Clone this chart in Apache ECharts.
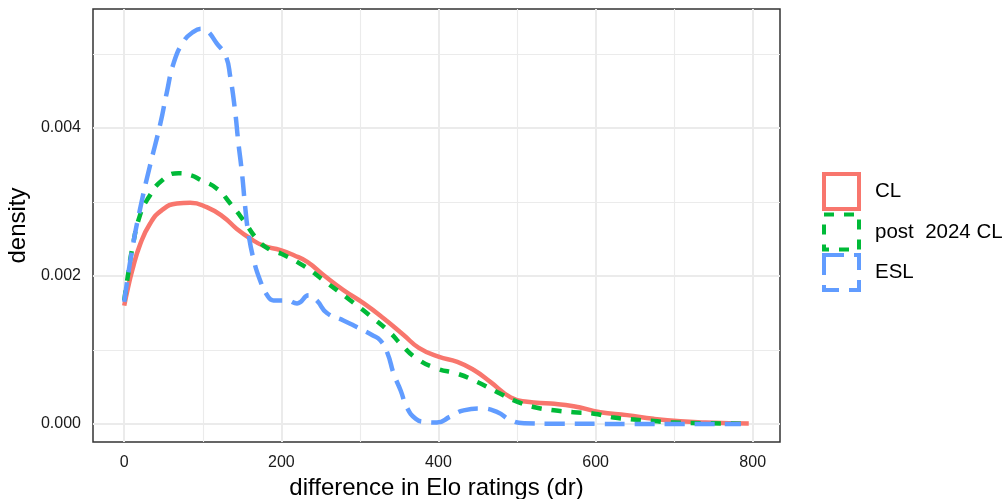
<!DOCTYPE html>
<html><head><meta charset="utf-8">
<script src="https://cdn.jsdelivr.net/npm/echarts@6/dist/echarts.min.js"></script>
<style>html,body{margin:0;padding:0;background:#fff}#c{width:1008px;height:499px}</style>
</head><body><div id="c"></div>
<script>
const seriesNames = ['CL', 'post  2024 CL', 'ESL'];
const clX = [0,5,10,20,33,48,67,84,105,126,143,160,177,199,216,233,254,279,305,330,356,375,400,424,445,466,492,513,543,572,606,640,674,708,740,770,795];
const clY = [0.00160,0.00185,0.00207,0.00242,0.00271,0.00289,0.00298,0.00299,0.00293,0.00280,0.00264,0.00251,0.00241,0.00235,0.00228,0.00219,0.00201,0.00181,0.00163,0.00143,0.00120,0.00103,0.00091,0.00084,0.00073,0.00057,0.00036,0.00030,0.000276,0.00024,0.00016,0.00012,0.00007,0.000036,0.00002,0.000012,0.000008];
const postX = [0,5,10,20,31,48,69,85,97,118,135,152,169,186,200,228,254,288,317,339,352,373,398,424,449,475,496,521,547,572,598,623,649,674,700,740,785];
const postY = [0.00167,0.00203,0.00236,0.00282,0.00306,0.00329,0.00339,0.00336,0.00330,0.00318,0.00298,0.00275,0.00250,0.00235,0.00230,0.00214,0.00194,0.00167,0.00143,0.00123,0.00108,0.00088,0.00075,0.00068,0.00057,0.00043,0.00032,0.00023,0.000185,0.00016,0.00014,0.000087,0.00006,0.00004,0.00002,0.00001,0.000005];
const eslX = [0,10,22.5,33,46,54,63,75,88,99,105,118,129,135,141,145,150,154,158,165,173,182,190,207,220,235,245,258,279,296,316,326,335,343,352,360,371,381,398,415,432,454,475,492,509,550,600,650,700,750,785];
const eslY = [0.00165,0.00235,0.00302,0.00350,0.00406,0.00447,0.00488,0.00516,0.00530,0.00534,0.00532,0.00514,0.00498,0.00469,0.00424,0.00383,0.00338,0.00293,0.00258,0.00221,0.00194,0.00174,0.00167,0.00167,0.00163,0.00174,0.00167,0.00150,0.00140,0.00131,0.00120,0.00113,0.00096,0.00068,0.00045,0.00022,0.00007,0.00003,0.00002,0.00010,0.000185,0.00021,0.00016,0.00005,0.00001,0.000003,0.000002,0.000001,0.000001,0.000001,0.000001];
const xMajor = [0,200,400,600,800];
const xMinor = [100,300,500,700];
const yMajor = [0,0.002,0.004];
const yMinor = [0.001,0.003,0.005];
const xTitle = 'difference in Elo ratings (dr)';
const yTitle = 'density';

const colors = ['#F8766D', '#00BA38', '#619CFF'];
const dashes = ['solid', [10,10], [20,10]];
const XMIN = -39.75, XMAX = 834.75, YMIN = -0.000243, YMAX = 0.005608;
const FONT = 'Liberation Sans, Arial, Helvetica, sans-serif';

function pairs(xs, ys){ return xs.map((x,i)=>[x, ys[i]]); }
const datasets = [pairs(clX, clY), pairs(postX, postY), pairs(eslX, eslY)];

const gridBase = {left:93, top:9, width:687, height:433};
function xAx(custom, labels, width, name){
  return {type:'value', min:XMIN, max:XMAX, gridIndex:0,
    axisLine:{show:false}, axisTick:{show:false, customValues:custom},
    axisLabel:{show:labels, customValues:custom, margin:13, color:'#1a1a1a', fontSize:16, fontFamily:FONT},
    splitLine:{show:true, lineStyle:{color:'#EBEBEB', width:width}},
    name:name, nameLocation:'middle', nameGap:33,
    nameTextStyle:{fontSize:24, color:'#000', fontFamily:FONT}};
}
function yAx(custom, labels, width, name){
  return {type:'value', min:YMIN, max:YMAX, gridIndex:0,
    axisLine:{show:false}, axisTick:{show:false, customValues:custom},
    axisLabel:{show:labels, customValues:custom, margin:12, color:'#1a1a1a', fontSize:16, fontFamily:FONT,
      formatter:v=>v.toFixed(3)},
    splitLine:{show:true, lineStyle:{color:'#EBEBEB', width:width}},
    name:name, nameLocation:'middle', nameGap:59,
    nameTextStyle:{fontSize:24, color:'#000', fontFamily:FONT}};
}

const chart = echarts.init(document.getElementById('c'), null, {renderer:'canvas'});
chart.setOption({
  animation:false,
  backgroundColor:'#fff',
  grid:[Object.assign({show:true, borderColor:'#333333', borderWidth:1.5, backgroundColor:'transparent',
    containLabel:false, outerBoundsMode:'none'}, gridBase)],
  xAxis:[xAx(xMajor, true, 2, xTitle), xAx(xMinor, false, 1.1, '')],
  yAxis:[yAx(yMajor, true, 2, yTitle), yAx(yMinor, false, 1.1, '')],
  legend:{
    orient:'vertical', left:822, top:172, padding:0, itemGap:1.5,
    itemWidth:35, itemHeight:35, selectedMode:false,
    textStyle:{fontSize:20.5, color:'#000', fontFamily:FONT, padding:[0,0,0,11]},
    data:seriesNames.map((n,i)=>({name:n, icon:'rect',
      itemStyle:{color:'transparent', borderColor:colors[i], borderWidth:4, borderType:dashes[i]}}))
  },
  series:seriesNames.map((n,i)=>({
    name:n, type:'line', xAxisIndex:0, yAxisIndex:0,
    data:datasets[i], showSymbol:false, symbol:'none',
    smooth:0.5,
    lineStyle:{color:colors[i], width:4.5, type:dashes[i], cap:'butt', join:'round'},
    itemStyle:{color:colors[i]},
    z:10+i
  }))
});
</script></body></html>
